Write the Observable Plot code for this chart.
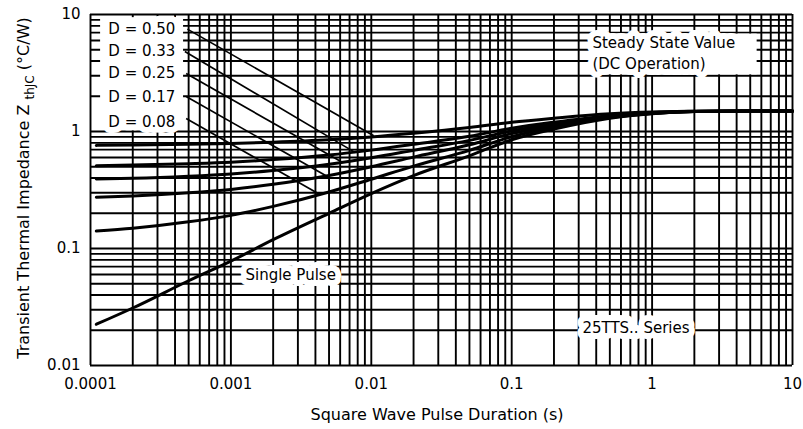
<!DOCTYPE html>
<html><head><meta charset="utf-8">
<script src="https://cdn.jsdelivr.net/npm/d3@7"></script>
<script src="https://cdn.jsdelivr.net/npm/@observablehq/plot@0.6"></script>
<style>
html,body{margin:0;padding:0;background:#fff;}
</style>
</head><body><div id="chart"></div>
<script>
// Pulse duration (s)
const duration = [0.00011, 0.0002, 0.0005, 0.001, 0.002, 0.005, 0.01, 0.02, 0.05, 0.1, 0.2, 0.5, 1, 2, 5, 10];
// Transient thermal impedance ZthJC (°C/W) per duty cycle
const singlePulse = [0.0225, 0.031, 0.053, 0.078, 0.119, 0.2, 0.295, 0.42, 0.62, 0.85, 1.05, 1.3, 1.42, 1.48, 1.5, 1.5];
const d008 = [0.141, 0.149, 0.169, 0.192, 0.229, 0.304, 0.391, 0.506, 0.69, 0.902, 1.086, 1.316, 1.426, 1.482, 1.5, 1.5];
const d017 = [0.274, 0.281, 0.299, 0.32, 0.354, 0.421, 0.50, 0.604, 0.77, 0.96, 1.127, 1.334, 1.434, 1.483, 1.5, 1.5];
const d025 = [0.392, 0.398, 0.415, 0.434, 0.464, 0.525, 0.596, 0.69, 0.84, 1.013, 1.163, 1.35, 1.44, 1.485, 1.5, 1.5];
const d033 = [0.51, 0.516, 0.531, 0.547, 0.575, 0.629, 0.693, 0.776, 0.91, 1.065, 1.2, 1.366, 1.446, 1.487, 1.5, 1.5];
const d050 = [0.761, 0.766, 0.777, 0.789, 0.81, 0.85, 0.898, 0.965, 1.08, 1.2, 1.3, 1.42, 1.47, 1.49, 1.5, 1.5];
const seriesNames = ["Single Pulse", "D = 0.08", "D = 0.17", "D = 0.25", "D = 0.33", "D = 0.50"];
const dutyLabels = ["D = 0.50", "D = 0.33", "D = 0.25", "D = 0.17", "D = 0.08"];

const xTicks = [0.0001, 0.001, 0.01, 0.1, 1, 10];
const xTickLabels = ["0.0001", "0.001", "0.01", "0.1", "1", "10"];
const yTicks = [0.01, 0.1, 1, 10];
const yTickLabels = ["0.01", "0.1", "1", "10"];
const minorSteps = [1, 2, 3, 4, 5, 6, 7, 8, 9];

const seriesValues = [singlePulse, d008, d017, d025, d033, d050];
const rows = seriesNames.flatMap((name, s) => duration.map((t, i) => ({series: name, t, z: seriesValues[s][i]})));

const xGrid = [...[0.0001, 0.001, 0.01, 0.1, 1].flatMap(d => minorSteps.map(k => k * d)), 10];
const yGrid = [...[0.01, 0.1, 1].flatMap(d => minorSteps.map(k => k * d)), 10];

// leader lines: label side -> curve
const leaders = [
  {x1: 0.00049, y1: 7.5, x2: 0.0104, y2: 0.92},
  {x1: 0.00047, y1: 4.83, x2: 0.0077, y2: 0.66},
  {x1: 0.00048, y1: 3.13, x2: 0.0062, y2: 0.545},
  {x1: 0.00048, y1: 1.99, x2: 0.0049, y2: 0.41},
  {x1: 0.00048, y1: 1.29, x2: 0.0043, y2: 0.29}
];
// white backgrounds behind annotation blocks
const boxes = [
  {x1: 0.000118, x2: 0.00046, y1: 1.04, y2: 9.4},
  {x1: 0.364, x2: 5.6, y1: 3.05, y2: 6.8}
];
const labelPos = [
  {text: dutyLabels[0], x: 0.000134, y: 7.44},
  {text: dutyLabels[1], x: 0.000134, y: 4.83},
  {text: dutyLabels[2], x: 0.000134, y: 3.13},
  {text: dutyLabels[3], x: 0.000134, y: 1.95},
  {text: dutyLabels[4], x: 0.000134, y: 1.2},
  {text: "Steady State Value", x: 0.376, y: 5.65},
  {text: "(DC Operation)", x: 0.376, y: 3.74},
  {text: "Single Pulse", x: 0.00127, y: 0.0588},
  {text: "25TTS.. Series", x: 0.319, y: 0.0207}
];

const plot = Plot.plot({
  width: 803, height: 429,
  marginLeft: 90, marginRight: 11, marginTop: 14, marginBottom: 64,
  style: {fontFamily: "DejaVu Sans", fontSize: "15px", color: "black", background: "white"},
  x: {type: "log", domain: [0.0001, 10], ticks: xTicks, tickFormat: d => xTickLabels[xTicks.indexOf(d)], tickSize: 0, tickPadding: 13, label: null},
  y: {type: "log", domain: [0.01, 10], ticks: yTicks, tickFormat: d => yTickLabels[yTicks.indexOf(d)], tickSize: 0, tickPadding: 10, label: null},
  marks: [
    Plot.ruleX(xGrid, {stroke: "black", strokeWidth: 1.9}),
    Plot.ruleY(yGrid, {stroke: "black", strokeWidth: 1.9}),
    Plot.line(rows, {x: "t", y: "z", z: "series", stroke: "black", strokeWidth: 3, curve: "monotone-x"}),
    Plot.rect(boxes, {x1: "x1", x2: "x2", y1: "y1", y2: "y2", fill: "white"}),
    Plot.link(leaders, {x1: "x1", y1: "y1", x2: "x2", y2: "y2", stroke: "black", strokeWidth: 1.7}),
    Plot.text(labelPos, {x: "x", y: "y", text: "text", textAnchor: "start", fill: "black", stroke: "white", strokeWidth: 12, fontSize: 15})
  ]
});

const svg = d3.select(plot);
svg.append("text")
  .attr("x", 437).attr("y", 420)
  .attr("text-anchor", "middle")
  .attr("fill", "black")
  .style("font-size", "16px")
  .text("Square Wave Pulse Duration (s)");
const yl = svg.append("text")
  .attr("transform", "translate(29,188) rotate(-90)")
  .attr("text-anchor", "middle")
  .attr("fill", "black")
  .style("font-size", "16px")
  .style("white-space", "pre");
yl.append("tspan").text("Transient Thermal Impedance Z ");
yl.append("tspan").attr("dy", 5).style("font-size", "12px").text("thJC");
yl.append("tspan").attr("dy", -5).text(" (°C/W)");

document.getElementById("chart").appendChild(plot);
</script>
</body></html>
